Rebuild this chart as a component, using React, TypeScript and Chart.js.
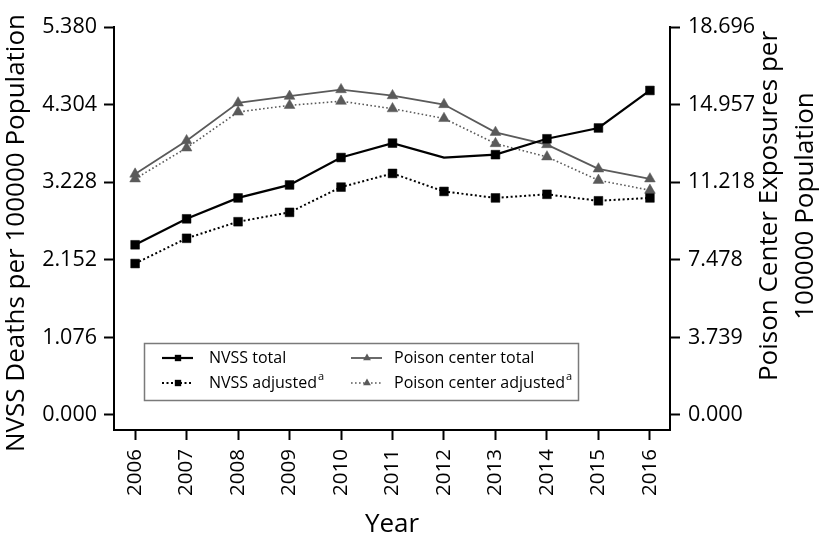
import React, { useEffect, useRef } from "react";
import { Chart, registerables } from "chart.js";

Chart.register(...registerables);

// ---------- data ----------
const years = [2006, 2007, 2008, 2009, 2010, 2011, 2012, 2013, 2014, 2015, 2016];
const nvssTotal = [2.36, 2.72, 3.01, 3.19, 3.57, 3.77, 3.57, 3.61, 3.83, 3.98, 4.50];
const nvssAdjusted = [2.10, 2.45, 2.68, 2.81, 3.16, 3.35, 3.10, 3.01, 3.06, 2.97, 3.01];
const poisonTotal = [11.61, 13.22, 15.04, 15.36, 15.68, 15.39, 14.96, 13.62, 13.03, 11.86, 11.38];
const poisonAdjusted = [11.38, 12.87, 14.60, 14.92, 15.12, 14.76, 14.29, 13.08, 12.44, 11.31, 10.83];

const leftTickValues = [0, 1.076, 2.152, 3.228, 4.304, 5.38];
const leftTickLabels = ["0.000", "1.076", "2.152", "3.228", "4.304", "5.380"];
const rightTickValues = [0, 3.739, 7.478, 11.218, 14.957, 18.696];
const rightTickLabels = ["0.000", "3.739", "7.478", "11.218", "14.957", "18.696"];

const seriesLabels = ["NVSS total", "NVSS adjusted", "Poison center total", "Poison center adjusted"];
const seriesFootnotes = ["", "a", "", "a"];
const missingMarkerYears = [2012]; // NVSS total has no marker at 2012 in the original

const xTitle = "Year";
const leftTitle = "NVSS Deaths per 100000 Population";
const rightTitleLines = ["Poison Center Exposures per", "100000 Population"];

// ---------- styling ----------
const FONT = "'Open Sans', sans-serif";
const BLACK = "#000000";
const GREY = "#5a5a5a";
const LEFT_MAX = 5.38;
const LEFT_MIN = -0.208;
const RIGHT_MAX = 18.696;
const RIGHT_MIN = (LEFT_MIN * RIGHT_MAX) / LEFT_MAX;

function drawMarker(ctx: CanvasRenderingContext2D, style: string, x: number, y: number, r: number, color: string) {
  ctx.save();
  ctx.fillStyle = color;
  ctx.beginPath();
  if (style === "rect") {
    const s = Math.SQRT1_2 * r;
    ctx.rect(x - s, y - s, 2 * s, 2 * s);
  } else {
    ctx.moveTo(x, y - r);
    ctx.lineTo(x + 0.866 * r, y + 0.5 * r);
    ctx.lineTo(x - 0.866 * r, y + 0.5 * r);
    ctx.closePath();
  }
  ctx.fill();
  ctx.restore();
}

const decorPlugin = {
  id: "decor",
  afterDraw(chart: any) {
    const ctx: CanvasRenderingContext2D = chart.ctx;
    const area = chart.chartArea;
    ctx.save();

    // axis titles
    ctx.fillStyle = BLACK;
    ctx.font = `26px ${FONT}`;
    ctx.textAlign = "center";
    ctx.textBaseline = "alphabetic";
    ctx.fillText(xTitle, (area.left + area.right) / 2, 532);

    ctx.textBaseline = "middle";
    ctx.save();
    ctx.translate(17, 233);
    ctx.rotate(-Math.PI / 2);
    ctx.fillText(leftTitle, 0, 0);
    ctx.restore();

    const rightXs = [770, 806];
    rightTitleLines.forEach((line, i) => {
      ctx.save();
      ctx.translate(rightXs[i], 206);
      ctx.rotate(-Math.PI / 2);
      ctx.fillText(line, 0, 0);
      ctx.restore();
    });

    // legend box
    ctx.strokeStyle = "#7a7a7a";
    ctx.lineWidth = 1.5;
    ctx.strokeRect(144.5, 343.5, 434, 57);

    const sampleX = [162, 351];
    const textX = [209, 394];
    const rowY = [358, 383];
    chart.data.datasets.forEach((ds: any, i: number) => {
      const col = Math.floor(i / 2);
      const row = i % 2;
      const x0 = sampleX[col];
      const y = rowY[row];
      ctx.save();
      ctx.beginPath();
      ctx.strokeStyle = ds.borderColor;
      ctx.lineWidth = ds.borderWidth;
      ctx.setLineDash(ds.borderDash || []);
      ctx.moveTo(x0, y);
      ctx.lineTo(x0 + 31, y);
      ctx.stroke();
      ctx.restore();
      drawMarker(ctx, ds.pointStyle, x0 + 16, y, 4.5, ds.pointBackgroundColor);

      ctx.fillStyle = BLACK;
      ctx.textAlign = "left";
      ctx.textBaseline = "middle";
      ctx.font = `16px ${FONT}`;
      ctx.fillText(seriesLabels[i], textX[col], y);
      if (seriesFootnotes[i]) {
        const w = ctx.measureText(seriesLabels[i]).width;
        ctx.font = `11px ${FONT}`;
        ctx.fillText(seriesFootnotes[i], textX[col] + w + 1, y - 6);
      }
    });

    ctx.restore();
  },
};

function toPoints(values: number[]) {
  return years.map((yr, i) => ({ x: yr, y: values[i] }));
}

export default function App() {
  const canvasRef = useRef<HTMLCanvasElement | null>(null);

  useEffect(() => {
    if (!canvasRef.current) return;
    const chart = new Chart(canvasRef.current, {
      type: "line",
      data: {
        datasets: [
          {
            label: seriesLabels[0],
            data: toPoints(nvssTotal),
            yAxisID: "y",
            borderColor: BLACK,
            borderWidth: 2.2,
            pointStyle: "rect",
            pointRadius: years.map((yr) => (missingMarkerYears.includes(yr) ? 0 : 6.2)),
            pointBackgroundColor: BLACK,
            pointBorderColor: BLACK,
            pointBorderWidth: 0.5,
            tension: 0,
          },
          {
            label: seriesLabels[1],
            data: toPoints(nvssAdjusted),
            yAxisID: "y",
            borderColor: BLACK,
            borderWidth: 2,
            borderDash: [2, 2.5],
            pointStyle: "rect",
            pointRadius: 6.2,
            pointBackgroundColor: BLACK,
            pointBorderColor: BLACK,
            pointBorderWidth: 0.5,
            tension: 0,
          },
          {
            label: seriesLabels[2],
            data: toPoints(poisonTotal),
            yAxisID: "y1",
            borderColor: GREY,
            borderWidth: 1.8,
            pointStyle: "triangle",
            pointRadius: 6.2,
            pointBackgroundColor: GREY,
            pointBorderColor: GREY,
            pointBorderWidth: 0.5,
            tension: 0,
          },
          {
            label: seriesLabels[3],
            data: toPoints(poisonAdjusted),
            yAxisID: "y1",
            borderColor: GREY,
            borderWidth: 1.6,
            borderDash: [1.6, 2.4],
            pointStyle: "triangle",
            pointRadius: 6.2,
            pointBackgroundColor: GREY,
            pointBorderColor: GREY,
            pointBorderWidth: 0.5,
            tension: 0,
          },
        ],
      },
      options: {
        responsive: false,
        animation: false,
        devicePixelRatio: 1,
        layout: { padding: { top: 27, left: 0, right: 0, bottom: 0 } },
        plugins: { legend: { display: false }, tooltip: { enabled: false } },
        scales: {
          x: {
            type: "linear",
            min: 2005.59,
            max: 2016.39,
            afterBuildTicks: (scale: any) => {
              scale.ticks = years.map((v) => ({ value: v }));
            },
            afterFit: (scale: any) => {
              scale.height = 110;
            },
            grid: {
              display: true,
              drawOnChartArea: false,
              drawTicks: true,
              tickLength: 10,
              tickWidth: 2,
              tickColor: BLACK,
            },
            border: { display: true, color: BLACK, width: 2 },
            ticks: {
              minRotation: 90,
              maxRotation: 90,
              autoSkip: false,
              padding: 9,
              color: BLACK,
              font: { family: FONT, size: 20.5 },
              callback: (value: any) => String(value),
            },
          },
          y: {
            type: "linear",
            position: "left",
            min: LEFT_MIN,
            max: LEFT_MAX,
            afterBuildTicks: (scale: any) => {
              scale.ticks = leftTickValues.map((v) => ({ value: v }));
            },
            afterFit: (scale: any) => {
              scale.width = 114;
            },
            grid: {
              display: true,
              drawOnChartArea: false,
              drawTicks: true,
              tickLength: 10,
              tickWidth: 2,
              tickColor: BLACK,
            },
            border: { display: true, color: BLACK, width: 2 },
            ticks: {
              padding: 7,
              color: BLACK,
              font: { family: FONT, size: 21.5 },
              callback: (value: any) => {
                const i = leftTickValues.indexOf(value);
                return i >= 0 ? leftTickLabels[i] : "";
              },
            },
          },
          y1: {
            type: "linear",
            position: "right",
            min: RIGHT_MIN,
            max: RIGHT_MAX,
            afterBuildTicks: (scale: any) => {
              scale.ticks = rightTickValues.map((v) => ({ value: v }));
            },
            afterFit: (scale: any) => {
              scale.width = 152;
            },
            grid: {
              display: true,
              drawOnChartArea: false,
              drawTicks: true,
              tickLength: 10,
              tickWidth: 2,
              tickColor: BLACK,
            },
            border: { display: true, color: BLACK, width: 2 },
            ticks: {
              padding: 8,
              color: BLACK,
              font: { family: FONT, size: 21.5 },
              callback: (value: any) => {
                const i = rightTickValues.indexOf(value);
                return i >= 0 ? rightTickLabels[i] : "";
              },
            },
          },
        },
      },
      plugins: [decorPlugin],
    } as any);
    return () => chart.destroy();
  }, []);

  return (
    <div style={{ position: "absolute", left: 0, top: 0, width: 822, height: 540, background: "#fff" }}>
      <canvas ref={canvasRef} width={822} height={540} />
    </div>
  );
}
